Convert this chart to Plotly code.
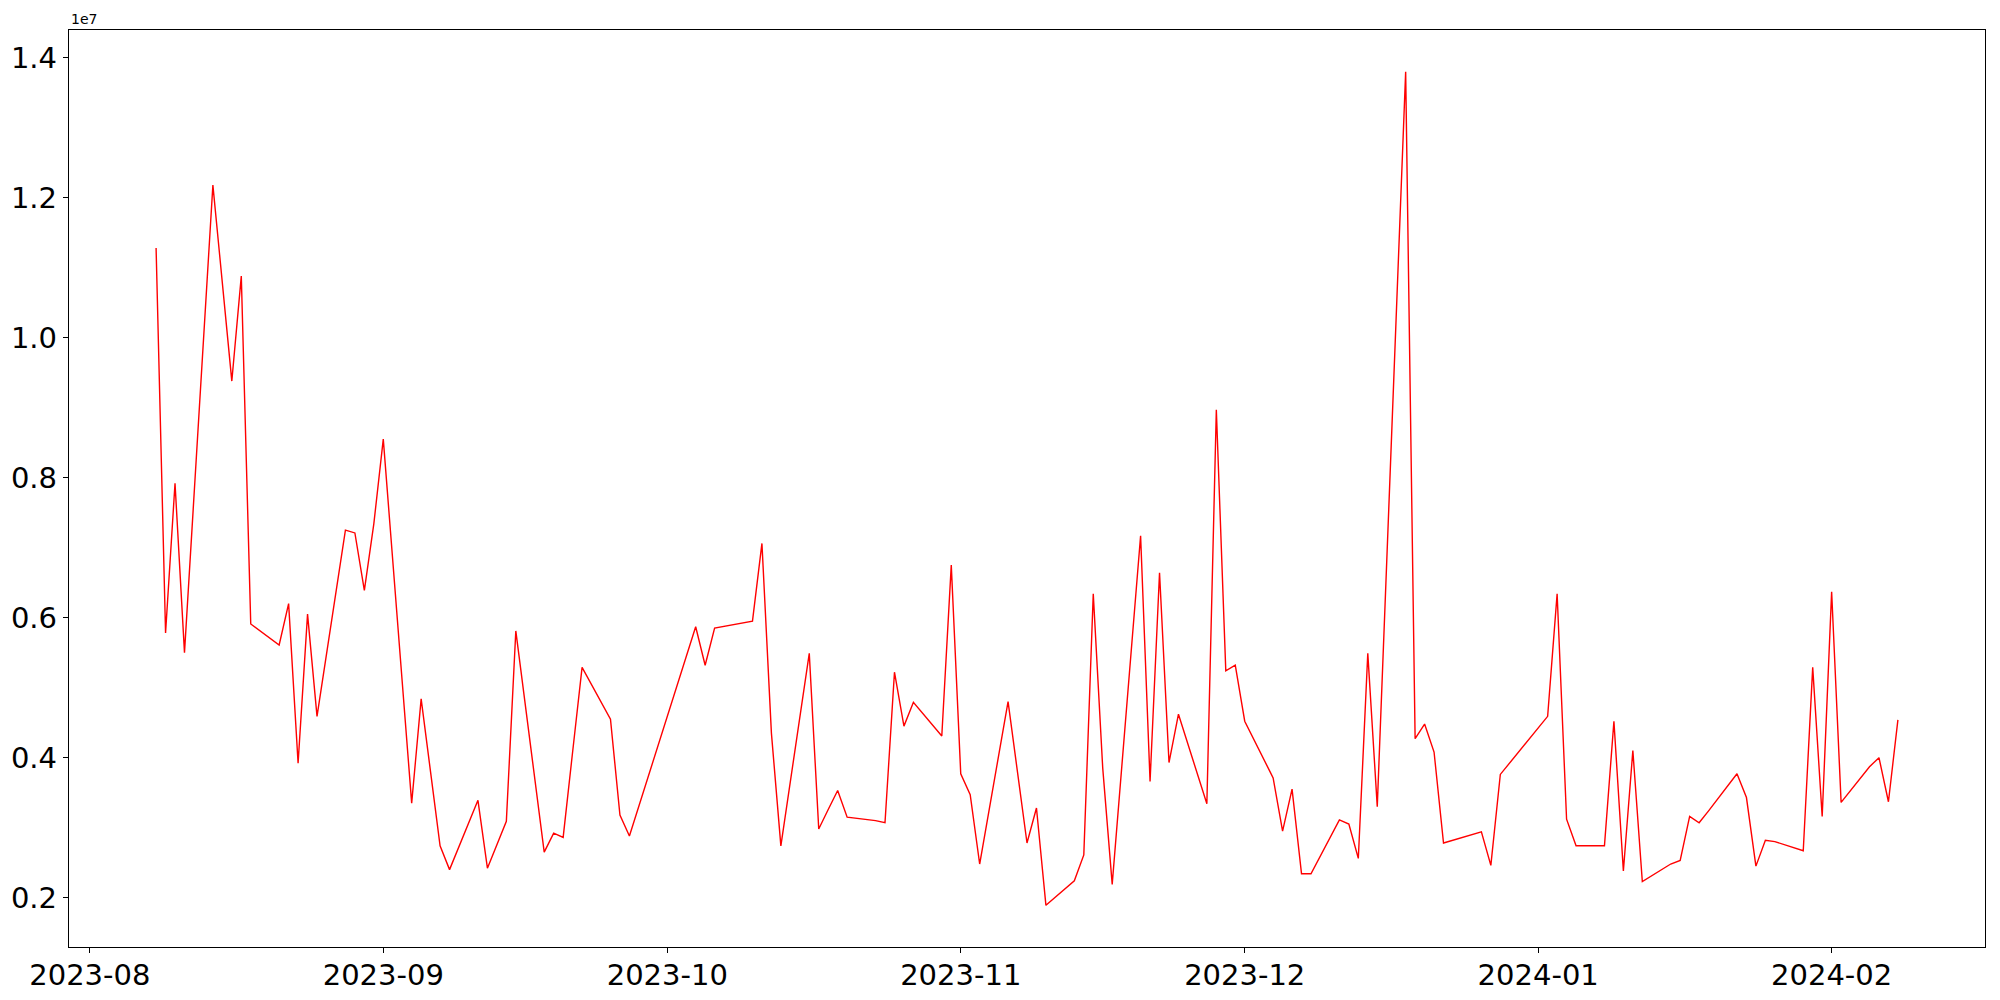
import plotly.graph_objects as go
import pandas as pd

# trading days (KRX calendar) and daily values, in millions
dates = [
    "2023-08-08", "2023-08-09", "2023-08-10", "2023-08-11", "2023-08-14", "2023-08-16",
    "2023-08-17", "2023-08-18", "2023-08-21", "2023-08-22", "2023-08-23", "2023-08-24",
    "2023-08-25", "2023-08-28", "2023-08-29", "2023-08-30", "2023-08-31",
    "2023-09-01", "2023-09-04", "2023-09-05", "2023-09-06", "2023-09-07", "2023-09-08",
    "2023-09-11", "2023-09-12", "2023-09-13", "2023-09-14", "2023-09-15", "2023-09-18",
    "2023-09-19", "2023-09-20", "2023-09-21", "2023-09-22", "2023-09-25", "2023-09-26",
    "2023-09-27",
    "2023-10-04", "2023-10-05", "2023-10-06", "2023-10-10", "2023-10-11", "2023-10-12",
    "2023-10-13", "2023-10-16", "2023-10-17", "2023-10-18", "2023-10-19", "2023-10-20",
    "2023-10-23", "2023-10-24", "2023-10-25", "2023-10-26", "2023-10-27", "2023-10-30",
    "2023-10-31",
    "2023-11-01", "2023-11-02", "2023-11-03", "2023-11-06", "2023-11-07", "2023-11-08",
    "2023-11-09", "2023-11-10", "2023-11-13", "2023-11-14", "2023-11-15", "2023-11-16",
    "2023-11-17", "2023-11-20", "2023-11-21", "2023-11-22", "2023-11-23", "2023-11-24",
    "2023-11-27", "2023-11-28", "2023-11-29", "2023-11-30",
    "2023-12-01", "2023-12-04", "2023-12-05", "2023-12-06", "2023-12-07", "2023-12-08",
    "2023-12-11", "2023-12-12", "2023-12-13", "2023-12-14", "2023-12-15", "2023-12-18",
    "2023-12-19", "2023-12-20", "2023-12-21", "2023-12-22", "2023-12-26", "2023-12-27",
    "2023-12-28",
    "2024-01-02", "2024-01-03", "2024-01-04", "2024-01-05", "2024-01-08", "2024-01-09",
    "2024-01-10", "2024-01-11", "2024-01-12", "2024-01-15", "2024-01-16", "2024-01-17",
    "2024-01-18", "2024-01-19", "2024-01-22", "2024-01-23", "2024-01-24", "2024-01-25",
    "2024-01-26", "2024-01-29", "2024-01-30", "2024-01-31",
    "2024-02-01", "2024-02-02", "2024-02-05", "2024-02-06", "2024-02-07", "2024-02-08",
]

values_m = [
    11.28, 5.78, 7.92, 5.50, 12.18, 9.38,
    10.88, 5.91, 5.61, 6.20, 3.92, 6.05,
    4.59, 7.25, 7.21, 6.39, 7.34,
    8.55, 3.35, 4.84, 3.79, 2.74, 2.40,
    3.39, 2.42, 2.76, 3.09, 5.81, 2.65,
    2.92, 2.86, 4.08, 5.29, 4.55, 3.18,
    2.88,
    5.87, 5.32, 5.85, 5.95, 7.06, 4.35,
    2.74, 5.49, 2.98, 3.26, 3.53, 3.15,
    3.10, 3.07, 5.22, 4.45, 4.79, 4.31,
    6.75,
    3.77, 3.47, 2.48, 4.80, 3.79, 2.78,
    3.28, 1.89, 2.24, 2.61, 6.34, 3.85,
    2.19, 7.17, 3.66, 6.64, 3.93, 4.62,
    3.34, 8.97, 5.24, 5.32,
    4.52, 3.71, 2.95, 3.55, 2.34, 2.34,
    3.11, 3.05, 2.56, 5.49, 3.30, 13.80,
    4.27, 4.48, 4.08, 2.78, 2.94, 2.46,
    3.76,
    4.59, 6.34, 3.12, 2.74, 2.74, 4.52,
    2.38, 4.10, 2.23, 2.48, 2.53, 3.16,
    3.07, 3.24, 3.77, 3.43, 2.45, 2.82,
    2.80, 2.67, 5.29, 3.16,
    6.37, 3.36, 3.87, 4.00, 3.37, 4.54,
]

x_ticks = ["2023-08-01", "2023-09-01", "2023-10-01", "2023-11-01",
           "2023-12-01", "2024-01-01", "2024-02-01"]
y_ticks = [0.2, 0.4, 0.6, 0.8, 1.0, 1.2, 1.4]  # in units of 1e7

x = pd.to_datetime(dates)
y = [v * 1e6 for v in values_m]

# matplotlib-style 5% margins around the data
x_pad = (x.max() - x.min()) * 0.05
y_pad = (max(y) - min(y)) * 0.05

FONT = "DejaVu Sans, Verdana, sans-serif"

fig = go.Figure()
fig.add_trace(go.Scatter(
    x=x, y=y, mode="lines",
    line=dict(color="#ff0000", width=1.4),
    showlegend=False,
))

axis_style = dict(
    showline=True, linecolor="black", linewidth=1.3, mirror=True,
    showgrid=False, zeroline=False, automargin=False,
    ticks="outside", ticklen=5, tickwidth=1.1, tickcolor="black",
    tickfont=dict(family=FONT, size=29, color="black"),
)

# the page body adds an 8px offset, so the figure is 8px smaller
fig.update_layout(
    template="none",
    width=1992, height=992,
    paper_bgcolor="white", plot_bgcolor="white",
    margin=dict(l=61, r=15, t=22, b=53, pad=0),
    xaxis=dict(
        range=[x.min() - x_pad, x.max() + x_pad],
        tickvals=pd.to_datetime(x_ticks), tickformat="%Y-%m",
        ticklabelstandoff=-3,
        **axis_style,
    ),
    yaxis=dict(
        range=[min(y) - y_pad, max(y) + y_pad],
        tickvals=[t * 1e7 for t in y_ticks],
        ticktext=[f"{t:.1f}" for t in y_ticks],
        **axis_style,
    ),
    annotations=[dict(
        text="1e7", xref="paper", yref="paper", x=0, y=1,
        xanchor="left", yanchor="bottom", yshift=1, showarrow=False,
        font=dict(family=FONT, size=14, color="black"),
    )],
)

fig.write_html("out.html")
